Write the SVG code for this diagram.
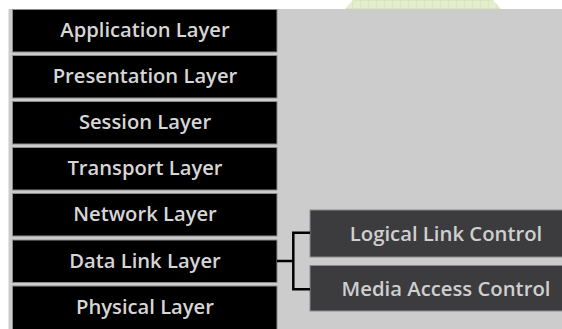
<svg xmlns="http://www.w3.org/2000/svg" width="562" height="329" viewBox="0 0 562 329">
  <defs>
    <pattern id="grid" width="8" height="8" patternUnits="userSpaceOnUse">
      <rect width="8" height="8" fill="#e4eecf"/>
      <path d="M0 0H8M0 0V8" stroke="#cfe0b0" stroke-width="1"/>
    </pattern>
    <style>
      .layer rect { fill: #000; stroke: #8c8c8c; stroke-width: 1; }
      .layer text { fill: #d6d6d6; font-family: "Open Sans", "Liberation Sans", sans-serif; font-weight: 600; font-size: 20.2px; text-anchor: middle; }
      .sub rect { fill: #3c3c3e; stroke: #8a8a8a; stroke-width: 1; }
      .sub text { fill: #cfcfcf; font-family: "Open Sans", "Liberation Sans", sans-serif; font-weight: 600; font-size: 20.3px; text-anchor: middle; }
      .conn path { fill: none; stroke: #000; stroke-width: 2.5; }
    </style>
  </defs>
  <rect width="562" height="329" fill="#ffffff"/>
  <circle cx="423" cy="70" r="99" fill="url(#grid)"/>
  <rect x="8.5" y="9" width="554" height="321" fill="#cccccc"/>

  <g id="application" class="layer"><rect x="12.5" y="9.5" width="264.5" height="42.5"/><text x="145" y="37">Application Layer</text></g>
  <g id="presentation" class="layer"><rect x="12.5" y="55.5" width="264.5" height="42.5"/><text x="145" y="83">Presentation Layer</text></g>
  <g id="session" class="layer"><rect x="12.5" y="101.5" width="264.5" height="42.5"/><text x="145" y="129">Session Layer</text></g>
  <g id="transport" class="layer"><rect x="12.5" y="147.5" width="264.5" height="42.5"/><text x="145" y="175">Transport Layer</text></g>
  <g id="network" class="layer"><rect x="12.5" y="193.5" width="264.5" height="42.5"/><text x="145" y="221">Network Layer</text></g>
  <g id="datalink" class="layer"><rect x="12.5" y="240" width="264.5" height="42.5"/><text x="145" y="267.5">Data Link Layer</text></g>
  <g id="physical" class="layer"><rect x="12.5" y="286" width="264.5" height="50"/><text x="145" y="313.5">Physical Layer</text></g>

  <g id="llc" class="sub"><rect x="310" y="210" width="260" height="47"/><text x="446" y="240.5">Logical Link Control</text></g>
  <g id="mac" class="sub"><rect x="310" y="265.5" width="260" height="45.5"/><text x="446" y="295.5">Media Access Control</text></g>

  <g id="connectors" class="conn">
    <path d="M277 261H293.3"/>
    <path d="M310 232.7H293.3V289.3H310"/>
  </g>
</svg>
